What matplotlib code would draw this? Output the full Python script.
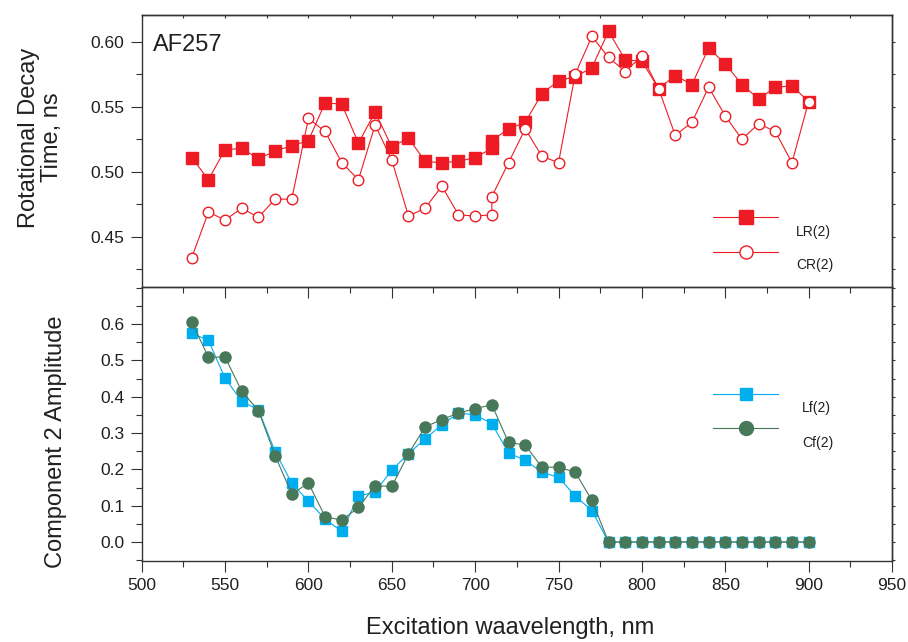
import matplotlib
matplotlib.use('Agg')
import matplotlib.pyplot as plt
from matplotlib.ticker import MultipleLocator

plt.rcParams['font.family'] = ['Liberation Sans', 'DejaVu Sans']

# longueurs d'onde (le point 710 apparait deux fois dans le panneau du haut)
wl_top = [530, 540, 550, 560, 570, 580, 590, 600, 610, 620, 630, 640, 650, 660, 670,
          680, 690, 700, 710, 710, 720, 730, 740, 750, 760, 770, 780, 790, 800, 810,
          820, 830, 840, 850, 860, 870, 880, 890, 900]
lr2 = [0.511, 0.494, 0.517, 0.518, 0.510, 0.516, 0.520, 0.524, 0.553, 0.552, 0.522,
       0.546, 0.519, 0.526, 0.508, 0.507, 0.508, 0.511, 0.518, 0.524, 0.533, 0.538,
       0.560, 0.570, 0.573, 0.580, 0.608, 0.586, 0.585, 0.564, 0.574, 0.567, 0.595,
       0.583, 0.567, 0.556, 0.565, 0.566, 0.554]
cr2 = [0.434, 0.469, 0.463, 0.472, 0.465, 0.479, 0.479, 0.541, 0.531, 0.507, 0.494,
       0.536, 0.509, 0.466, 0.472, 0.489, 0.467, 0.466, 0.467, 0.481, 0.507, 0.533,
       0.512, 0.507, 0.575, 0.604, 0.588, 0.577, 0.589, 0.564, 0.528, 0.538, 0.565,
       0.543, 0.525, 0.537, 0.531, 0.507, 0.554]

wl_bot = [530, 540, 550, 560, 570, 580, 590, 600, 610, 620, 630, 640, 650, 660, 670,
          680, 690, 700, 710, 720, 730, 740, 750, 760, 770, 780, 790, 800, 810, 820,
          830, 840, 850, 860, 870, 880, 890, 900]
lf2 = [0.575, 0.555, 0.451, 0.387, 0.364, 0.249, 0.162, 0.112, 0.063, 0.029, 0.126,
       0.138, 0.198, 0.243, 0.284, 0.323, 0.355, 0.350, 0.326, 0.245, 0.225, 0.192,
       0.178, 0.127, 0.086, 0, 0, 0, 0, 0, 0, 0, 0, 0, 0, 0, 0, 0]
cf2 = [0.606, 0.509, 0.509, 0.415, 0.362, 0.238, 0.132, 0.162, 0.070, 0.060, 0.095,
       0.155, 0.153, 0.243, 0.317, 0.337, 0.355, 0.367, 0.378, 0.274, 0.267, 0.206,
       0.206, 0.192, 0.115, 0, 0, 0, 0, 0, 0, 0, 0, 0, 0, 0, 0, 0]

rouge = '#ED1C24'
bleu = '#00AEEF'
vert = '#48785A'
texte = '#231F20'

fig = plt.figure(figsize=(9.08, 6.42), dpi=100)
W, H = 908, 642
ax1 = fig.add_axes([141.7 / W, 1 - 287 / H, 750.3 / W, 272 / H])
ax2 = fig.add_axes([141.7 / W, 1 - 561 / H, 750.3 / W, 274 / H])
ax2.patch.set_visible(False)  # pour voir les ticks du panneau du haut

# panneau du haut
ax1.plot(wl_top, lr2, '-s', color=rouge, lw=0.8, ms=8.4, mfc=rouge, mec=rouge, zorder=3)
ax1.plot(wl_top, cr2, '-o', color=rouge, lw=0.8, ms=7.6, mfc='white', mec=rouge, mew=1.0, zorder=4)
ax1.set_xlim(500, 950)
ax1.set_ylim(0.4115, 0.6205)
ax1.yaxis.set_major_locator(MultipleLocator(0.05))
ax1.yaxis.set_minor_locator(MultipleLocator(0.025))
ax1.set_yticks([0.45, 0.50, 0.55, 0.60])
ax1.set_yticklabels(['0.45', '0.50', '0.55', '0.60'])
ax1.set_ylabel('Rotational Decay\nTime, ns', fontsize=17, color=texte,
               va='center', ha='center', multialignment='center', linespacing=1.1)
ax1.yaxis.set_label_coords(-0.135, 0.55)
ax1.text(0.0147, 0.93, 'AF257', transform=ax1.transAxes, fontsize=17,
         color=texte, ha='left', va='top')

# panneau du bas
ax2.plot(wl_bot, lf2, '-s', color=bleu, lw=0.8, ms=7.7, mfc=bleu, mec=bleu, zorder=3)
ax2.plot(wl_bot, cf2, '-o', color=vert, lw=0.8, ms=8.0, mfc=vert, mec=vert, zorder=4)
ax2.set_xlim(500, 950)
ax2.set_ylim(-0.0523, 0.702)
ax2.yaxis.set_major_locator(MultipleLocator(0.1))
ax2.yaxis.set_minor_locator(MultipleLocator(0.05))
ax2.set_yticks([0.0, 0.1, 0.2, 0.3, 0.4, 0.5, 0.6])
ax2.set_ylabel('Component 2 Amplitude', fontsize=17, color=texte, va='center', ha='center')
ax2.yaxis.set_label_coords(-0.114, 0.434)
ax2.set_xlabel('Excitation waavelength, nm', fontsize=17, color=texte, va='center')
ax2.xaxis.set_label_coords(0.491, -0.245)

for ax in (ax1, ax2):
    ax.xaxis.set_major_locator(MultipleLocator(50))
    ax.xaxis.set_minor_locator(MultipleLocator(25))
    for s in ax.spines.values():
        s.set_linewidth(1.0)
        s.set_color('#333333')
    ax.tick_params(which='both', colors='#333333', labelcolor=texte, labelsize=12.5)
    ax.tick_params(axis='both', which='major', direction='out', length=7.9, width=0.8, pad=4.5,
                   left=True, bottom=True, right=False, top=False)
    ax.tick_params(axis='both', which='minor', direction='out', length=4.0, width=0.8,
                   left=True, bottom=True, right=False, top=False)
    # petits ticks a droite
    sec = ax.secondary_yaxis('right')
    sec.set_yticks(ax.get_yticks(minor=True), minor=True)
    sec.set_yticks(ax.get_yticks())
    sec.tick_params(which='both', direction='out', length=1.8, width=0.8, labelright=False,
                    colors='#333333')
    sec.spines['right'].set_linewidth(1.0)
    sec.spines['right'].set_color('#333333')

ax1.tick_params(axis='x', which='both', labelbottom=False)
# petits ticks en haut du panneau superieur
top = ax1.secondary_xaxis('top')
top.xaxis.set_major_locator(MultipleLocator(50))
top.xaxis.set_minor_locator(MultipleLocator(25))
top.tick_params(which='both', direction='in', length=1.8, width=0.8, labeltop=False,
                colors='#333333')
top.spines['top'].set_linewidth(1.0)
top.spines['top'].set_color('#333333')

# legendes dessinees a la main (style Origin, texte decale sous la ligne)
def entree(ax, y_ligne, y_texte, x_txt, label, **style):
    ax.plot([0.7614, 0.848], [y_ligne, y_ligne], transform=ax.transAxes, clip_on=False,
            lw=0.8, color=style['color'])
    ax.plot([0.8054], [y_ligne], transform=ax.transAxes, clip_on=False, ls='none', **style)
    ax.text(x_txt, y_texte, label, transform=ax.transAxes, fontsize=10, color=texte,
            ha='left', va='center')

entree(ax1, 0.2585, 0.2033, 0.872, 'LR(2)', color=rouge, marker='s', ms=9.4, mfc=rouge, mec=rouge)
entree(ax1, 0.1298, 0.0809, 0.872, 'CR(2)', color=rouge, marker='o', ms=9.4, mfc='white',
       mec=rouge, mew=1.0)
entree(ax2, 0.6095, 0.558, 0.880, 'Lf(2)', color=bleu, marker='s', ms=9.0, mfc=bleu, mec=bleu)
entree(ax2, 0.4865, 0.4318, 0.880, 'Cf(2)', color=vert, marker='o', ms=10.0, mfc=vert, mec=vert)

fig.savefig('out.png', dpi=100)
